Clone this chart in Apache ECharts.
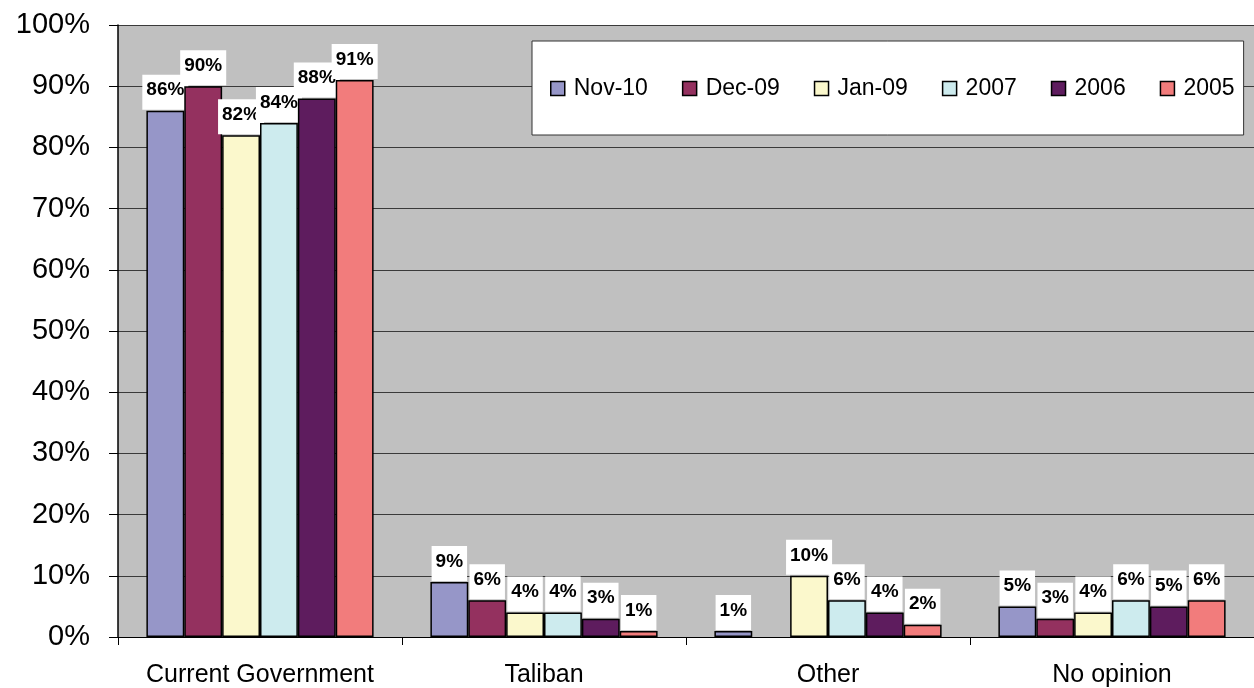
<!DOCTYPE html>
<html>
<head>
<meta charset="utf-8">
<script src="https://cdn.jsdelivr.net/npm/echarts@6/dist/echarts.min.js"></script>
<style>
html,body{margin:0;padding:0;background:#fff;}
#chart{width:1254px;height:688px;}
</style>
</head>
<body>
<div id="chart"></div>
<script>
const categories = ['Current Government', 'Taliban', 'Other', 'No opinion'];
const seriesNames = ['Nov-10', 'Dec-09', 'Jan-09', '2007', '2006', '2005'];
const nov10 = [86, 9, 1, 5];
const dec09 = [90, 6, null, 3];
const jan09 = [82, 4, 10, 4];
const y2007 = [84, 4, 6, 6];
const y2006 = [88, 3, 4, 5];
const y2005 = [91, 1, 2, 6];
const seriesData = [nov10, dec09, jan09, y2007, y2006, y2005];
const colors = ['#9696C8', '#94315F', '#FBF8CC', '#CDEBEE', '#5E1C5E', '#F27C7C'];

const FONT = '"Liberation Sans", Arial, sans-serif';

const chart = echarts.init(document.getElementById('chart'), null, {renderer: 'canvas'});

const series = seriesNames.map((name, i) => ({
  name: name,
  type: 'bar',
  data: seriesData[i],
  barGap: '0%',
  barCategoryGap: '20%',
  itemStyle: { color: colors[i], borderColor: '#000', borderWidth: 1.5 },
  label: {
    show: true,
    position: 'top',
    distance: 1,
    formatter: p => (p.value == null ? '' : p.value + '%'),
    backgroundColor: '#fff',
    padding: [6, 4, 10, 4],
    color: '#000',
    fontFamily: FONT,
    fontWeight: 'bold',
    fontSize: 19
  },
  z: 2 + i
}));

chart.setOption({
  animation: false,
  color: colors,
  grid: {
    left: 118, top: 25, width: 1144, height: 613,
    show: true, backgroundColor: '#C0C0C0', borderWidth: 0
  },
  legend: {
    data: seriesNames,
    left: 532, top: 41,
    orient: 'horizontal',
    backgroundColor: '#fff',
    borderColor: '#333',
    borderWidth: 1,
    padding: [36, 9, 35, 18],
    itemWidth: 14, itemHeight: 14,
    itemGap: 34,
    icon: 'rect',
    itemStyle: { borderColor: '#000', borderWidth: 1.5 },
    textStyle: { fontFamily: FONT, fontSize: 23, color: '#000', padding: [0, 0, 0, 4] }
  },
  xAxis: {
    type: 'category',
    data: categories,
    axisLine: { show: true, lineStyle: { color: '#000', width: 1 } },
    axisTick: { show: true, length: 8, alignWithLabel: false, interval: 0, lineStyle: { color: '#000' } },
    axisLabel: { fontFamily: FONT, fontSize: 25, color: '#000', margin: 26, interval: 0 }
  },
  yAxis: {
    type: 'value',
    min: 0, max: 100, interval: 10,
    axisLine: { show: true, lineStyle: { color: '#000', width: 1.5 } },
    axisTick: { show: true, length: 9, lineStyle: { color: '#000' } },
    axisLabel: { fontFamily: FONT, fontSize: 29, color: '#000', margin: 28, formatter: '{value}%' },
    splitLine: { show: true, lineStyle: { color: '#3a3a3a', width: 1 } }
  },
  series: series
});
</script>
</body>
</html>
